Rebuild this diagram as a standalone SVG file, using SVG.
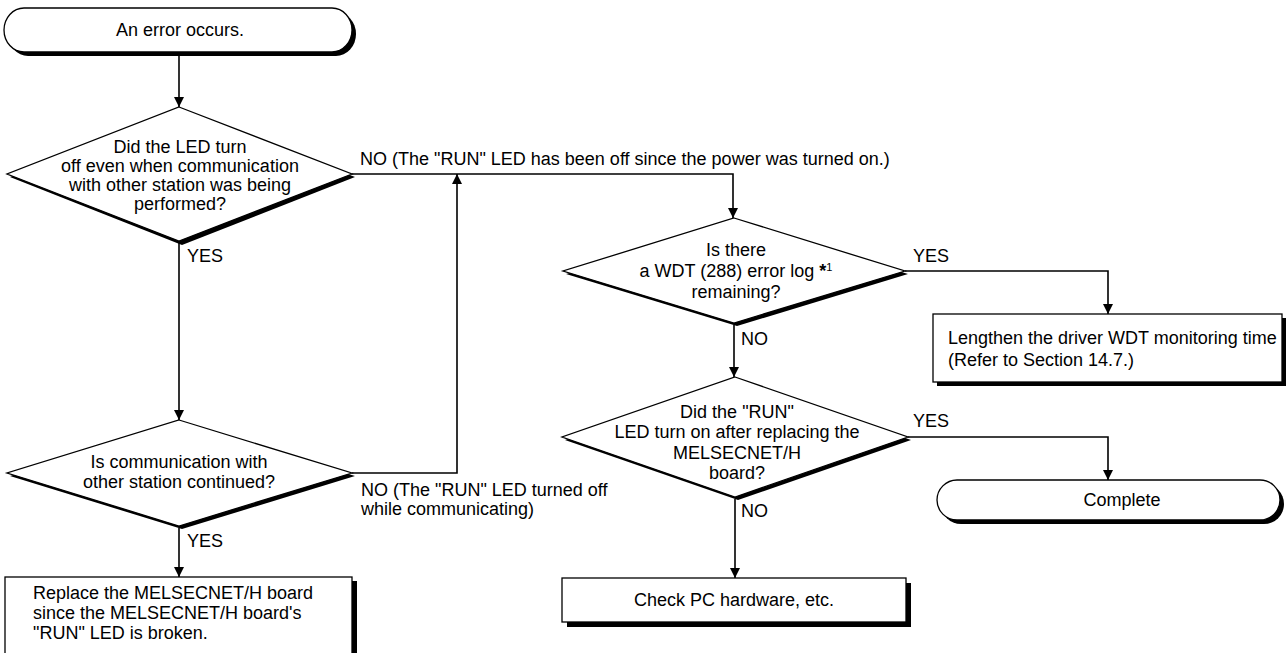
<svg xmlns="http://www.w3.org/2000/svg" width="1287" height="653" viewBox="0 0 1287 653">
<defs>
<marker id="ah" viewBox="0 0 10 10" refX="10" refY="5" markerWidth="10" markerHeight="10" markerUnits="userSpaceOnUse" orient="auto">
<path d="M0,0 L10,5 L0,10 z" fill="#000"/>
</marker>
</defs>
<style>
text{font-family:"Liberation Sans",Arial,sans-serif;font-size:18px;fill:#000}
.c{text-anchor:middle}
.shape{fill:#fff;stroke:#000;stroke-width:1.3}
.sh{fill:#000;stroke:none}
.ln{fill:none;stroke:#000;stroke-width:1.6}
</style>
<rect width="1287" height="653" fill="#fff"/>

<g id="connectors">
<path class="ln" d="M179,56 L179,107" marker-end="url(#ah)"/>
<path class="ln" d="M179,243 L179,420" marker-end="url(#ah)"/>
<path class="ln" d="M179,528 L179,577" marker-end="url(#ah)"/>
<path class="ln" d="M352,473 L457,473 L457,174" marker-end="url(#ah)"/>
<path class="ln" d="M352,174 L733,174 L733,218" marker-end="url(#ah)"/>
<path class="ln" d="M905,271 L1108,271 L1108,314" marker-end="url(#ah)"/>
<path class="ln" d="M734,325 L734,377" marker-end="url(#ah)"/>
<path class="ln" d="M908,437 L1108,437 L1108,480" marker-end="url(#ah)"/>
<path class="ln" d="M735,499 L735,578" marker-end="url(#ah)"/>
<text x="187" y="262">YES</text>
<text x="187" y="547">YES</text>
<text x="741" y="345">NO</text>
<text x="741" y="517">NO</text>
<text x="913" y="262">YES</text>
<text x="913" y="427">YES</text>
<text x="360" y="165">NO (The "RUN" LED has been off since the power was turned on.)</text>
<text x="361" y="496">NO (The "RUN" LED turned off</text>
<text x="361" y="515">while communicating)</text>
</g>

<g id="start">
<rect class="sh" x="8" y="12" width="348" height="44" rx="20" ry="22"/>
<rect class="shape" x="4" y="8" width="348" height="44" rx="20" ry="22"/>
<text class="c" x="180" y="36">An error occurs.</text>
</g>

<g id="d1">
<polygon class="sh" points="182,110 355,177 182,245 10,177"/>
<polygon class="shape" points="179,107 352,174 179,241 7,174"/>
<text class="c" x="180" y="153">Did the LED turn</text>
<text class="c" x="180" y="172">off even when communication</text>
<text class="c" x="180" y="191">with other station was being</text>
<text class="c" x="180" y="210">performed?</text>
</g>

<g id="d2">
<polygon class="sh" points="182,423 355,476 182,529 10,476"/>
<polygon class="shape" points="179,420 352,473 179,526 7,473"/>
<text class="c" x="179" y="468">Is communication with</text>
<text class="c" x="179" y="488">other station continued?</text>
</g>

<g id="replace">
<rect class="sh" x="9" y="581" width="348" height="80"/>
<rect class="shape" x="5" y="577" width="347" height="80"/>
<text x="33" y="599">Replace the MELSECNET/H board</text>
<text x="33" y="619">since the MELSECNET/H board's</text>
<text x="33" y="639">"RUN" LED is broken.</text>
</g>

<g id="d3">
<polygon class="sh" points="737,221 908,274 737,326 566,274"/>
<polygon class="shape" points="734,218 905,271 734,323 563,271"/>
<text class="c" x="736" y="256">Is there</text>
<text class="c" x="736" y="277">a WDT (288) error log <tspan font-weight="bold">*</tspan><tspan font-size="11" dy="-6">1</tspan></text>
<text class="c" x="736" y="298">remaining?</text>
</g>

<g id="lengthen">
<rect class="sh" x="937" y="318" width="349" height="68"/>
<rect class="shape" x="933" y="314" width="349" height="68"/>
<text x="948" y="344">Lengthen the driver WDT monitoring time</text>
<text x="948" y="366">(Refer to Section 14.7.)</text>
</g>

<g id="d4">
<polygon class="sh" points="738,380 911,440 738,500 565,440"/>
<polygon class="shape" points="735,377 908,437 735,497 562,437"/>
<text class="c" x="737" y="418">Did the "RUN"</text>
<text class="c" x="737" y="438">LED turn on after replacing the</text>
<text class="c" x="737" y="459">MELSECNET/H</text>
<text class="c" x="737" y="479">board?</text>
</g>

<g id="complete">
<rect class="sh" x="941" y="484" width="343" height="40" rx="20" ry="20"/>
<rect class="shape" x="937" y="480" width="343" height="40" rx="20" ry="20"/>
<text class="c" x="1122" y="506">Complete</text>
</g>

<g id="check">
<rect class="sh" x="567" y="583" width="344" height="44"/>
<rect class="shape" x="562" y="578" width="344" height="44"/>
<text class="c" x="734" y="606">Check PC hardware, etc.</text>
</g>
</svg>
